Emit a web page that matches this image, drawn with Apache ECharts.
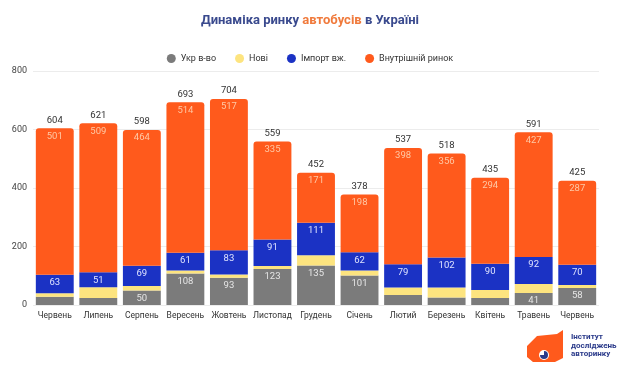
<!DOCTYPE html>
<html><head><meta charset="utf-8">
<script src="https://cdn.jsdelivr.net/npm/echarts@6/dist/echarts.min.js"></script>
<style>html,body{margin:0;padding:0;background:#fff}#c{width:620px;height:367px}</style>
</head><body><div id="c"></div>
<script>
const categories = ['Червень','Липень','Серпень','Вересень','Жовтень','Листопад','Грудень','Січень','Лютий','Березень','Квітень','Травень','Червень'];
const ukrProd = [28,24,50,108,93,123,135,101,34,26,24,41,58];
const newCars = [12,37,15,10,11,10,35,17,26,34,27,31,10];
const imports = [63,51,69,61,83,91,111,62,79,102,90,92,70];
const domestic = [501,509,464,514,517,335,171,198,398,356,294,427,287];
const totals = [604,621,598,693,704,559,452,378,537,518,435,591,425];
const yTicks = [0,200,400,600,800];

const chart = echarts.init(document.getElementById('c'));
const F = 'Roboto, "Noto Sans", sans-serif';
chart.setOption({
  animation:false,
  title:{
    text:'{a|Динаміка ринку }{b|автобусів}{a| в Україні}',
    left:'center', top:9,
    textStyle:{rich:{
      a:{fontFamily:F,fontSize:13,fontWeight:'bold',color:'#3a4a8e'},
      b:{fontFamily:F,fontSize:13,fontWeight:'bold',color:'#f07a3c'}
    }}
  },
  legend:{
    data:['Укр в-во','Нові','Імпорт вж.','Внутрішній ринок'],
    top:49, left:'center', icon:'circle', itemWidth:9, itemHeight:9, itemGap:19,
    textStyle:{fontFamily:F,fontSize:9,color:'#333'}
  },
  grid:{left:33,right:21,top:71,bottom:62},
  xAxis:{
    type:'category', data:categories,
    axisLine:{show:false}, axisTick:{show:false},
    axisLabel:{fontFamily:F,fontSize:8.5,color:'#333',interval:0,margin:6}
  },
  yAxis:{
    type:'value', min:0, max:800, interval:200,
    axisLabel:{fontFamily:F,fontSize:9,color:'#444',margin:6,
      formatter:v=>yTicks.includes(v)?String(v):''},
    splitLine:{lineStyle:{color:'#ececec'}}
  },
  series:[
    {name:'Укр в-во',type:'bar',stack:'s',barWidth:'87%',data:ukrProd,
     itemStyle:{color:'#7b7b7b'},
     label:{show:true,position:'insideTop',distance:3,color:'#e6e6e6',fontFamily:F,fontSize:9.5,
       formatter:p=>p.value>=40?p.value:''}},
    {name:'Нові',type:'bar',stack:'s',data:newCars,itemStyle:{color:'#fde47f'}},
    {name:'Імпорт вж.',type:'bar',stack:'s',data:imports,
     itemStyle:{color:'#1b32c4'},
     label:{show:true,position:'insideTop',distance:3,color:'#dfe3ff',fontFamily:F,fontSize:9.5}},
    {name:'Внутрішній ринок',type:'bar',stack:'s',data:domestic,
     itemStyle:{color:'#ff5a1c',borderRadius:[3,3,0,0]},
     label:{show:true,position:'insideTop',distance:3,color:'#ffc9a6',fontFamily:F,fontSize:9.5}},
    {name:'total',type:'bar',stack:'s',data:totals.map(()=>0),
     itemStyle:{color:'transparent'},
     label:{show:true,position:'top',distance:3,color:'#333',fontFamily:F,fontSize:9.5,
       formatter:p=>totals[p.dataIndex]}}
  ],
  graphic:[
    {type:'polygon',left:527,top:330,shape:{points:[[0,16],[10,6],[30,4],[36,0],[36,28],[28,32],[6,32],[0,27]]},
     style:{fill:'#ff5a1c'}},
    {type:'circle',shape:{cx:544,cy:355,r:5},style:{fill:'#fff'}},
    {type:'sector',shape:{cx:544,cy:355,r:4,r0:0,startAngle:-Math.PI/2,endAngle:Math.PI},style:{fill:'#2a3a8a'}},
    {type:'text',left:571,top:333,style:{text:'Інститут\nдосліджень\nавторинку',fontFamily:F,fontSize:8,fontWeight:'bold',lineHeight:8.5,fill:'#2a3a8a'}}
  ]
});
</script></body></html>
